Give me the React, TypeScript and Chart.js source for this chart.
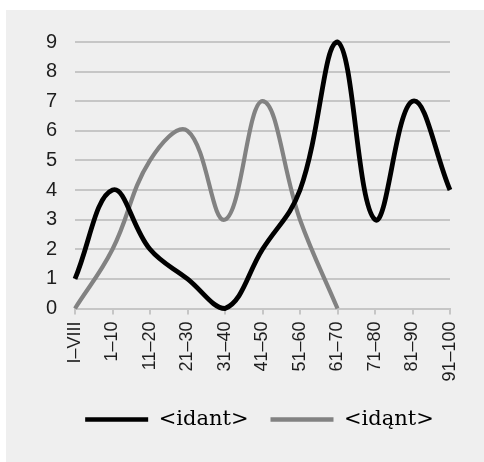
import React, { useEffect, useRef } from "react";
import { Chart, registerables } from "chart.js";

Chart.register(...registerables);

const categories = ["I–VIII", "1–10", "11–20", "21–30", "31–40", "41–50", "51–60", "61–70", "71–80", "81–90", "91–100"];
const seriesNames = ["<idant>", "<idąnt>"];
const idantValues = [1, 4, 2, 1, 0, 2, 4, 9, 3, 7, 4];
const idqntValues = [0, 2, 5, 6, 3, 7, 3, 0, null, null, null];
const yMin = 0;
const yMax = 9;
const yStep = 1;

const bgPlugin = {
  id: "bgbox",
  beforeDraw(chart: any) {
    const { ctx, width, height } = chart;
    ctx.save();
    ctx.fillStyle = "#efefef";
    ctx.fillRect(6, 10, width - 6, height - 10);
    ctx.restore();
  },
};

export default function App() {
  const ref = useRef<HTMLCanvasElement>(null);
  useEffect(() => {
    document.body.style.margin = "0";
    const canvas = ref.current!;
    const chart = new Chart(canvas, {
      type: "line",
      data: {
        labels: categories,
        datasets: [
          {
            label: seriesNames[0],
            data: idantValues,
            borderColor: "#000000",
            backgroundColor: "#000000",
            borderWidth: 4.8,
            pointRadius: 0,
            tension: 0.4,
            clip: false as any,
          },
          {
            label: seriesNames[1],
            data: idqntValues,
            borderColor: "#828282",
            backgroundColor: "#828282",
            borderWidth: 4.2,
            pointRadius: 0,
            tension: 0.4,
            spanGaps: false,
            clip: false as any,
          },
        ],
      },
      options: {
        animation: false,
        responsive: false,
        layout: { padding: { left: 35, right: 0, top: 42, bottom: 22 } },
        scales: {
          x: {
            type: "category",
            offset: false,
            grid: { drawOnChartArea: false, drawTicks: true, tickLength: 6, color: "#c6c6c6", lineWidth: 2 },
            border: { display: true, color: "#c6c6c6", width: 2 },
            ticks: {
              minRotation: 90,
              maxRotation: 90,
              autoSkip: false,
              padding: 7,
              color: "#1e1e1e",
              font: { family: "'Liberation Sans', sans-serif", size: 18 },
            },
            afterFit(scale: any) {
              scale.height = 78.5;
            },
          },
          y: {
            position: "left",
            min: yMin,
            max: yMax,
            grid: { drawTicks: false, color: "#c6c6c6", lineWidth: 2 },
            border: { display: false },
            ticks: {
              stepSize: yStep,
              padding: 18,
              color: "#1e1e1e",
              font: { family: "'Liberation Sans', sans-serif", size: 20 },
            },
            afterFit(scale: any) {
              scale.width = 40;
            },
          },
          yRight: {
            position: "right",
            min: yMin,
            max: yMax,
            grid: { drawOnChartArea: false, drawTicks: false },
            border: { display: false },
            ticks: { display: false },
            afterFit(scale: any) {
              scale.width = 34;
            },
          },
        },
        plugins: {
          tooltip: { enabled: false },
          legend: {
            position: "bottom",
            labels: {
              boxWidth: 63,
              boxHeight: 4.5,
              padding: 22,
              color: "#000000",
              font: { family: "'DejaVu Serif', serif", size: 21 },
              generateLabels(ch: any) {
                return Chart.defaults.plugins.legend.labels
                  .generateLabels(ch)
                  .map((l: any) => ({ ...l, fillStyle: l.strokeStyle, lineWidth: 0 }));
              },
            },
          },
        },
      },
      plugins: [bgPlugin],
    });
    return () => chart.destroy();
  }, []);
  return <canvas ref={ref} width={484} height={462} style={{ display: "block", width: 484, height: 462 }} />;
}
